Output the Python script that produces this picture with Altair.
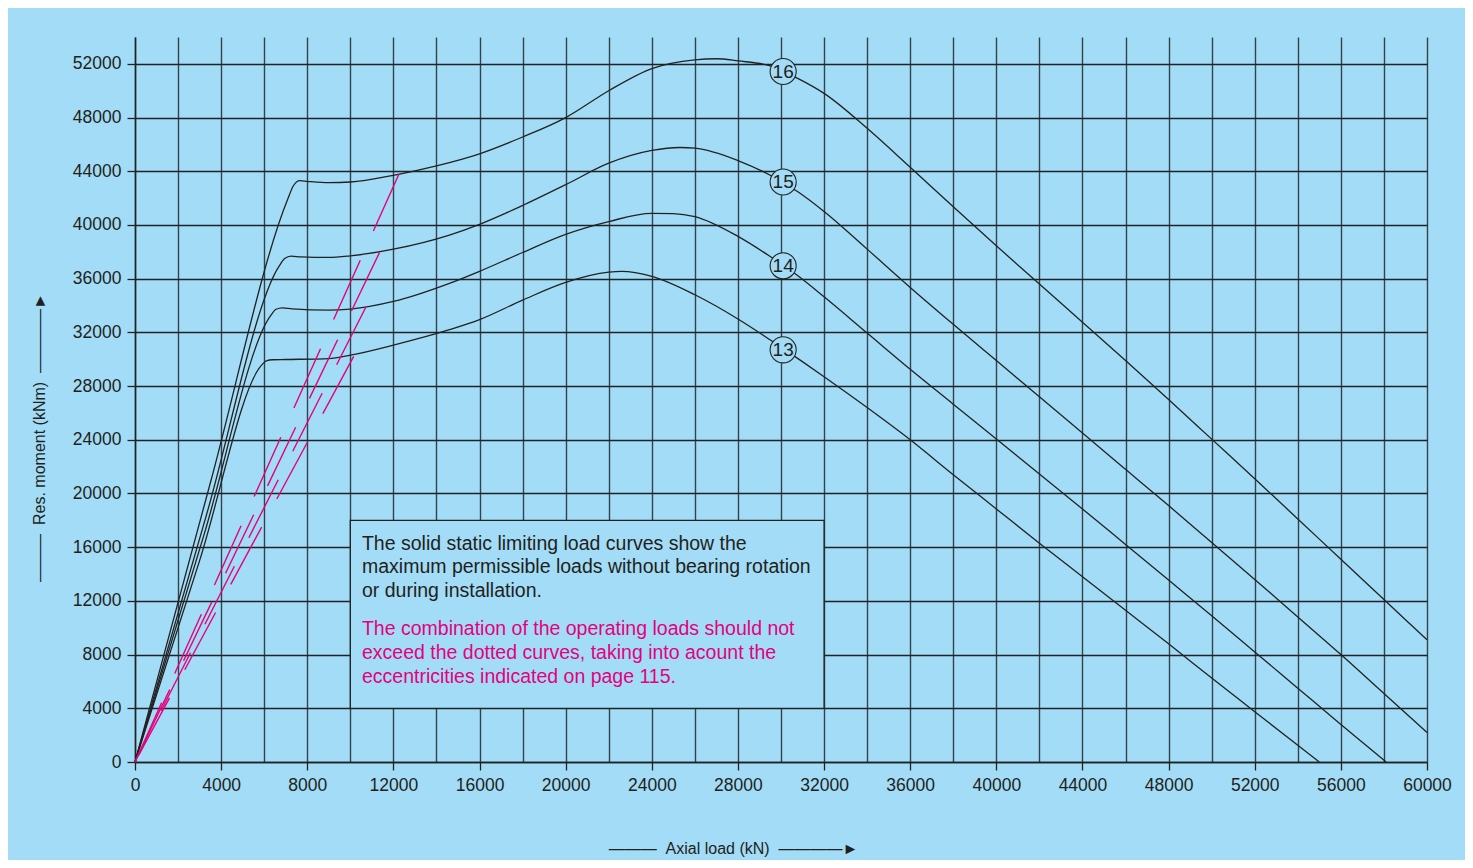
import altair as alt
import pandas as pd

BG = "#a2dcf6"
INK = "#222222"
MAGENTA = "#e5007d"
FONT = "Liberation Sans"

# ---- solid static limiting load curves ----
c16_x = [0, 3500, 7100, 7350, 7650, 8000, 9000, 10000, 12000, 14000, 16000, 18000, 20000, 22000, 24000, 26000, 27000, 28000, 29500, 30800, 32000, 34000, 36000, 38000, 40000, 42000, 44000, 46000, 48000, 50000, 52000, 54000, 56000, 58000, 60000]
c16_y = [0, 20800, 41950, 42900, 43300, 43250, 43150, 43200, 43700, 44400, 45300, 46550, 48000, 50000, 51650, 52300, 52380, 52220, 51850, 50900, 49800, 47200, 44300, 41350, 38450, 35600, 32750, 29900, 27000, 24050, 21100, 18100, 15100, 12100, 9100]

c15_x = [0, 3300, 6700, 6950, 7250, 7700, 9000, 10000, 12000, 14600, 16000, 18000, 20000, 22000, 24000, 25300, 26000, 28000, 29500, 30800, 32000, 34000, 36000, 38000, 40000, 42000, 44000, 46000, 48000, 50000, 52000, 54000, 56000, 58000, 60000]
c15_y = [0, 18300, 36950, 37500, 37680, 37620, 37580, 37700, 38200, 39250, 40050, 41450, 43000, 44600, 45550, 45770, 45720, 44800, 43700, 42450, 41000, 38200, 35350, 32600, 29900, 27200, 24500, 21800, 19100, 16350, 13600, 10800, 8000, 5100, 2200]

c14_x = [0, 3200, 6300, 6550, 6850, 7300, 9000, 10000, 12000, 14600, 16000, 18000, 20000, 22000, 24000, 25000, 26000, 28000, 29500, 30800, 32000, 34000, 36000, 38000, 40000, 42000, 44000, 46000, 48000, 50000, 52000, 54000, 56000, 58100]
c14_y = [0, 16900, 33250, 33720, 33830, 33750, 33650, 33730, 34300, 35650, 36550, 37950, 39300, 40250, 40870, 40850, 40620, 39150, 37650, 36200, 34650, 31950, 29250, 26650, 24050, 21450, 18850, 16200, 13550, 10900, 8200, 5500, 2800, 0]

c13_x = [0, 3000, 5900, 6100, 6400, 7000, 9000, 10000, 12000, 14600, 16000, 18000, 20000, 22000, 22600, 24000, 26000, 28000, 30000, 32000, 34000, 36000, 38000, 40000, 42000, 44000, 46000, 48000, 50000, 52000, 54000, 55000]
c13_y = [0, 15000, 29600, 29880, 29960, 29980, 30050, 30300, 31050, 32200, 32950, 34400, 35720, 36480, 36540, 36170, 34800, 33000, 30900, 28700, 26400, 24000, 21400, 18850, 16300, 13800, 11300, 8800, 6250, 3750, 1250, 0]

curve_names = ["16", "15", "14", "13"]

# ---- operating load lines (magenta, dashed), from origin to end point ----
op_names = ["16", "15", "14", "13"]
op_end_x = [12260, 11400, 10760, 10220]
op_end_y = [43800, 38100, 34000, 30400]

# ---- curve number markers ----
mark_x = [30100, 30100, 30100, 30100]
mark_y = [51430, 43200, 36960, 30700]

# ---- axis ticks ----
x_ticks = list(range(0, 60001, 2000))
y_ticks = list(range(0, 54001, 2000))

# ---- note box ----
box_x = [10000]
box_x2 = [32000]
box_y = [4000]
box_y2 = [18000]
note_black = ["The solid static limiting load curves show the",
              "maximum permissible loads without bearing rotation",
              "or during installation."]
note_black_y = [16240, 14530, 12740]
note_pink = ["The combination of the operating loads should not",
             "exceed the dotted curves, taking into acount the",
             "eccentricities indicated on page 115."]
note_pink_y = [9910, 8120, 6330]
note_x = 10540

# ---------------------------------------------------------------
rows = []
for name, xs_, ys_ in zip(curve_names, [c16_x, c15_x, c14_x, c13_x], [c16_y, c15_y, c14_y, c13_y]):
    for i, (a, b) in enumerate(zip(xs_, ys_)):
        rows.append({"series": name, "x": a, "y": b, "ord": i})
curves_df = pd.DataFrame(rows)

xscale = alt.Scale(domain=[0, 60000], nice=False, zero=True)
yscale = alt.Scale(domain=[0, 54000], nice=False, zero=True)

tick_cond = {"condition": {"test": "datum.value % 4000 === 0", "value": 1}, "value": 0}
NB = "\u00a0"
DASH = "\u2014"

xaxis = alt.Axis(
    values=x_ticks, format="d",
    labelExpr="datum.value % 4000 === 0 ? datum.label : ''",
    labelOverlap=False, labelFlush=False, labelBound=False,
    labelFont=FONT, labelFontSize=17.5, labelColor="#231f20", labelPadding=6,
    grid=True, gridColor="#34434b", gridWidth=1.4, gridOpacity=1,
    ticks=True, tickSize=8, tickColor=INK, tickWidth=1.3, tickOpacity=tick_cond,
    domain=True, domainColor=INK, domainWidth=1.5,
    title=DASH * 3 + NB * 2 + "Axial load (kN)" + NB * 2 + DASH * 4 + "\u25BA",
    titleFont=FONT, titleFontSize=16, titleFontWeight="normal", titleColor="#231f20",
    titleX=598, titleY=86, titleAlign="center", titleBaseline="middle", titleAngle=0,
)
yaxis = alt.Axis(
    values=y_ticks, format="d",
    labelExpr="datum.value % 4000 === 0 ? datum.label : ''",
    labelOverlap=False, labelFlush=False, labelBound=False,
    labelFont=FONT, labelFontSize=17.5, labelColor="#231f20", labelPadding=6,
    grid=True, gridColor="#1f2326", gridWidth=1.3, gridOpacity=1,
    ticks=True, tickSize=8, tickColor=INK, tickWidth=1.3, tickOpacity=tick_cond,
    domain=True, domainColor=INK, domainWidth=1.5,
    title=DASH * 3 + NB * 2 + "Res. moment (kNm)" + NB * 2 + DASH * 4 + "\u25BA",
    titleFont=FONT, titleFontSize=16, titleFontWeight="normal", titleColor="#231f20",
    titleX=-96, titleY=400, titleAlign="center", titleBaseline="middle", titleAngle=270,
)

curves = alt.Chart(curves_df).mark_line(
    color=INK, strokeWidth=1.3, interpolate="monotone"
).encode(
    x=alt.X("x:Q", scale=xscale, axis=xaxis),
    y=alt.Y("y:Q", scale=yscale, axis=yaxis),
    detail="series:N",
    order="ord:Q",
)

dash_offsets = [0, 81.7, 39.5, 89.2]
op_layers = []
for name, ex, ey, off in zip(op_names, op_end_x, op_end_y, dash_offsets):
    d = pd.DataFrame({"x": [0, ex], "y": [0, ey], "ord": [0, 1]})
    op_layers.append(
        alt.Chart(d).mark_line(color=MAGENTA, strokeWidth=1.4, strokeDash=[65, 32], strokeDashOffset=off)
        .encode(x=alt.X("x:Q", scale=xscale), y=alt.Y("y:Q", scale=yscale), order="ord:Q")
    )

box_df = pd.DataFrame({"x": box_x, "x2": box_x2, "y": box_y, "y2": box_y2})
box = alt.Chart(box_df).mark_rect(fill=BG, stroke=INK, strokeWidth=1.3).encode(
    x=alt.X("x:Q", scale=xscale), x2="x2:Q", y=alt.Y("y:Q", scale=yscale), y2="y2:Q"
)

nb_df = pd.DataFrame({"t": note_black, "x": [note_x] * 3, "y": note_black_y})
np_df = pd.DataFrame({"t": note_pink, "x": [note_x] * 3, "y": note_pink_y})
txt_black = alt.Chart(nb_df).mark_text(
    align="left", baseline="middle", font=FONT, fontSize=19.5, color="#231f20"
).encode(x=alt.X("x:Q", scale=xscale), y=alt.Y("y:Q", scale=yscale), text="t:N")
txt_pink = alt.Chart(np_df).mark_text(
    align="left", baseline="middle", font=FONT, fontSize=19.5, color=MAGENTA
).encode(x=alt.X("x:Q", scale=xscale), y=alt.Y("y:Q", scale=yscale), text="t:N")

mk_df = pd.DataFrame({"x": mark_x, "y": mark_y, "t": curve_names})
circles = alt.Chart(mk_df).mark_point(
    shape="circle", filled=True, fill=BG, stroke=INK, strokeWidth=1.1, size=680, opacity=1, fillOpacity=1
).encode(x=alt.X("x:Q", scale=xscale), y=alt.Y("y:Q", scale=yscale))
numbers = alt.Chart(mk_df).mark_text(
    font=FONT, fontSize=19, color="#231f20", align="center", baseline="middle"
).encode(x=alt.X("x:Q", scale=xscale), y=alt.Y("y:Q", scale=yscale), text="t:N")

chart = alt.layer(
    curves, *op_layers, box, txt_black, txt_pink, circles, numbers
).properties(
    width=1292, height=725,
    padding={"left": 127, "top": 29, "right": 38, "bottom": 98},
    autosize=alt.AutoSizeParams(type="none"),
    background=BG,
).configure_view(stroke=None)

chart.save("out.html", embed_options={"renderer": "svg", "actions": False})
